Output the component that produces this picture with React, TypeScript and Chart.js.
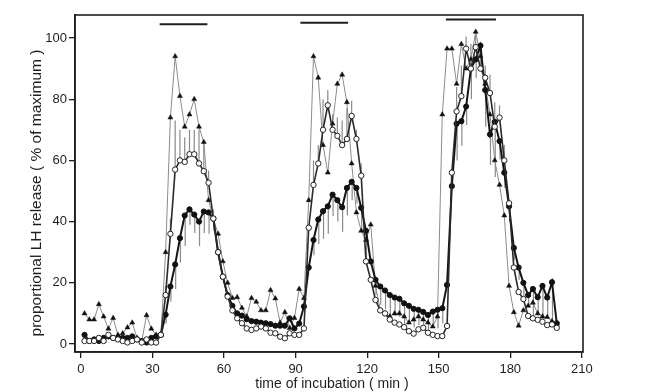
import React, { useEffect, useRef } from 'react';
import { Chart, registerables } from 'chart.js';

Chart.register(...registerables);

// sampling times (min)
const TIMES = [
  1.5, 3.5, 5.5, 7.5, 9.5, 11.5, 13.5, 15.5, 17.5, 19.5,
  21.5, 23.5, 25.5, 27.5, 29.5, 31.5, 33.5, 35.5, 37.5, 39.5,
  41.5, 43.5, 45.5, 47.5, 49.5, 51.5, 53.5, 55.5, 57.5, 59.5,
  61.5, 63.5, 65.5, 67.5, 69.5, 71.5, 73.5, 75.5, 77.5, 79.5,
  81.5, 83.5, 85.5, 87.5, 89.5, 91.5, 93.5, 95.5, 97.5, 99.5,
  101.5, 103.5, 105.5, 107.5, 109.5, 111.5, 113.5, 115.5, 117.5, 119.5,
  121.5, 123.5, 125.5, 127.5, 129.5, 131.5, 133.5, 135.5, 137.5, 139.5,
  141.5, 143.5, 145.5, 147.5, 149.5, 151.5, 153.5, 155.5, 157.5, 159.5,
  161.5, 163.5, 165.5, 167.5, 169.5, 171.5, 173.5, 175.5, 177.5, 179.5,
  181.5, 183.5, 185.5, 187.5, 189.5, 191.5, 193.5, 195.5, 197.5, 199.5,
];

// triangles (thin grey line)
const TRIANGLE = [
  10, 8, 8, 13, 9, 5, 8.5, 3, 3.5, 5.4,
  7, 2, 1, 9.4, 5, 3, 3, 30, 74, 94,
  81, 71, 75, 80, 71, 66, 47, 41, 36, 27,
  20, 15, 15.3, 11.8, 9, 15, 13.8, 11, 11, 17.6,
  14.9, 7, 10.4, 5.2, 8.5, 18, 15, 47, 94, 87,
  65, 56, 72, 85, 88, 79, 59, 43, 37, 34,
  39, 19, 11, 10, 9, 10, 10, 9, 7, 8,
  9, 8, 7, 5.7, 9, 75, 96.5, 96.5, 85, 98,
  90, 93, 102, 94, 85, 75, 60, 52, 42, 19,
  10.4, 6, 11, 12.5, 13.5, 10, 9, 8.8, 7.5, 6.5,
];

// open circles
const OPEN = [
  1, 1, 1, 2, 1, 3, 2, 1.5, 1, 0.5,
  1, 1.5, 0.5, 1.5, 0.5, 0.5, 3, 16, 36, 57,
  60, 59.5, 62, 62, 59, 56.5, 52.7, 41, 30, 22,
  15.5, 11, 8.4, 6.8, 5.1, 4.6, 5.1, 5.7, 5.1, 3.7,
  3.5, 2.4, 1.9, 3.5, 3, 3, 5.1, 38, 52, 59,
  70, 78, 70, 68, 65, 67, 74.5, 67, 55, 27,
  21, 14.4, 11, 10, 8, 7, 6.4, 5.5, 4.2, 3.4,
  4.8, 5.3, 3.7, 3, 2.6, 2.6, 5.9, 56, 76, 81,
  96.5, 90, 97, 90, 87, 82, 71, 74, 60, 46,
  25, 17, 14.7, 9.2, 8.4, 7.9, 7.3, 6.2, 6.4, 5.3,
];

// filled circles
const FILLED = [
  3, 1, 1.5, 1, 2, 2.5, 2, 2, 2, 2,
  2.5, 1.5, 1, 0.5, 2, 2.5, 3, 9.6, 18.8, 26,
  34.6, 42, 44, 42.3, 40, 43.3, 43, 41, 30, 22,
  16, 12.5, 10, 9.3, 8.1, 7.5, 7.3, 7, 6.8, 6.5,
  6, 6, 6, 8.4, 5.1, 6.7, 12.3, 25, 34, 40.7,
  43.4, 45, 48.8, 47, 44.7, 51, 53, 51, 44.5, 37,
  27, 21, 18.8, 17.5, 16, 15.2, 14.8, 13.3, 12.5, 11.5,
  11.2, 10.5, 9.5, 10.6, 11.2, 11.7, 19.3, 51.6, 72, 72.8,
  77.6, 90, 93, 97.5, 83, 68.5, 72.6, 66.3, 56, 45,
  31.4, 25, 20, 16, 18, 15.3, 19, 15.2, 20.2, 6.8,
];

// error bars (upward on open circles, downward on filled circles)
const OPEN_ERR = [
  0, 0, 0, 0, 0, 0, 0, 0, 0, 0,
  0, 0, 0, 0, 0, 0, 0, 3, 5, 16,
  10, 8, 8, 8, 11, 9, 4, 3, 0, 0,
  0, 0, 0, 0, 0, 0, 0, 0, 0, 0,
  0, 0, 0, 0, 0, 0, 0, 0, 8, 6,
  10, 5, 5, 6, 8, 10, 5, 3, 4, 0,
  0, 0, 0, 0, 0, 0, 0, 0, 0, 0,
  0, 0, 0, 0, 0, 0, 0, 0, 8, 10,
  4, 8, 4, 6, 4, 6, 8, 4, 5, 0,
  0, 0, 0, 0, 0, 0, 0, 0, 0, 0,
];

const FILLED_ERR = [
  0, 0, 0, 0, 0, 0, 0, 0, 0, 0,
  0, 0, 0, 0, 0, 0, 0, 3, 5, 8,
  8, 10, 5, 6, 8, 7, 7, 4, 0, 0,
  0, 0, 0, 0, 0, 0, 0, 0, 0, 0,
  0, 0, 0, 0, 0, 0, 0, 0, 5, 8,
  9, 9, 7, 7, 8, 9, 6, 5, 8, 10,
  0, 5, 6, 6, 7, 6, 6, 7, 6, 6,
  5, 6, 5, 5, 6, 5, 0, 0, 12, 8,
  6, 10, 6, 8, 12, 10, 18, 6, 5, 5,
  4, 4, 5, 4, 9, 6, 11, 6, 12, 0,
];

const X_TICKS = [0, 30, 60, 90, 120, 150, 180, 210];
const Y_TICKS = [0, 20, 40, 60, 80, 100];

// stimulation periods (bars at the top)
const STIM_START = [33, 92, 153];
const STIM_END = [53, 112, 174];
const STIM_LEVEL = [104.5, 105, 106];

const X_TITLE = 'time of incubation ( min )';
const Y_TITLE = 'proportional LH release ( % of maximum )';

const FONT = '"Liberation Sans", Arial, Helvetica, sans-serif';
const INK = '#1e1e1e';

const errorBarsPlugin = {
  id: 'errorBars',
  beforeDatasetsDraw(chart: any) {
    const { ctx, scales } = chart;
    const xs = scales.x;
    const ys = scales.y;
    ctx.save();
    ctx.strokeStyle = '#8a8a8a';
    ctx.lineWidth = 1.2;
    for (let i = 0; i < TIMES.length; i++) {
      const px = xs.getPixelForValue(TIMES[i]);
      if (OPEN_ERR[i] > 0) {
        ctx.beginPath();
        ctx.moveTo(px, ys.getPixelForValue(OPEN[i]));
        ctx.lineTo(px, ys.getPixelForValue(OPEN[i] + OPEN_ERR[i]));
        ctx.stroke();
      }
      if (FILLED_ERR[i] > 0) {
        ctx.beginPath();
        ctx.moveTo(px + 0.5, ys.getPixelForValue(FILLED[i]));
        ctx.lineTo(px + 0.5, ys.getPixelForValue(FILLED[i] - FILLED_ERR[i]));
        ctx.stroke();
      }
    }
    ctx.restore();
  },
};

const framePlugin = {
  id: 'frame',
  afterDraw(chart: any) {
    const { ctx, chartArea } = chart;
    ctx.save();
    ctx.strokeStyle = INK;
    ctx.lineWidth = 1.6;
    ctx.strokeRect(chartArea.left, chartArea.top, chartArea.right - chartArea.left, chartArea.bottom - chartArea.top);
    ctx.fillStyle = INK;
    ctx.textAlign = 'center';
    ctx.textBaseline = 'middle';
    ctx.font = `14px ${FONT}`;
    ctx.fillText(X_TITLE, 332, 384);
    ctx.save();
    ctx.translate(37, 193);
    ctx.rotate(-Math.PI / 2);
    ctx.font = `15.5px ${FONT}`;
    ctx.fillText(Y_TITLE, 0, 0);
    ctx.restore();
    ctx.restore();
  },
};

export default function App() {
  const ref = useRef<HTMLCanvasElement | null>(null);

  useEffect(() => {
    if (!ref.current) return;
    const pts = (vals: number[]) => TIMES.map((t, i) => ({ x: t, y: vals[i] }));
    const stimSets = STIM_START.map((s, i) => ({
      label: 'stim' + i,
      data: [
        { x: s, y: STIM_LEVEL[i] },
        { x: STIM_END[i], y: STIM_LEVEL[i] },
      ],
      borderColor: INK,
      borderWidth: 2,
      pointRadius: 0,
      order: 0,
    }));
    const chart = new Chart(ref.current, {
      type: 'line',
      data: {
        datasets: [
          {
            label: 'triangles',
            data: pts(TRIANGLE),
            borderColor: '#8c8c8c',
            borderWidth: 1,
            pointStyle: 'triangle',
            pointRadius: 2.9,
            pointBackgroundColor: '#111',
            pointBorderColor: '#111',
            pointBorderWidth: 0.5,
            order: 3,
          },
          {
            label: 'open',
            data: pts(OPEN),
            borderColor: '#2a2a2a',
            borderWidth: 1.6,
            pointStyle: 'circle',
            pointRadius: 2.7,
            pointBackgroundColor: '#ffffff',
            pointBorderColor: '#222',
            pointBorderWidth: 1,
            order: 1,
          },
          {
            label: 'filled',
            data: pts(FILLED),
            borderColor: '#151515',
            borderWidth: 2,
            pointStyle: 'circle',
            pointRadius: 2.6,
            pointBackgroundColor: '#111',
            pointBorderColor: '#111',
            pointBorderWidth: 1,
            order: 2,
          },
          ...stimSets,
        ] as any,
      },
      options: {
        animation: false,
        responsive: false,
        maintainAspectRatio: false,
        devicePixelRatio: 1,
        layout: { padding: { left: 0, right: 67, top: 15, bottom: 0 } },
        plugins: { legend: { display: false }, tooltip: { enabled: false } },
        elements: { line: { tension: 0 } },
        scales: {
          x: {
            type: 'linear',
            min: -2.5,
            max: 210.5,
            afterBuildTicks: (s: any) => {
              s.ticks = X_TICKS.map((v) => ({ value: v }));
            },
            afterFit: (s: any) => {
              s.height = 40;
            },
            grid: { display: true, drawOnChartArea: false, drawTicks: true, tickLength: 6, color: INK, lineWidth: 1.3 },
            border: { display: true, color: INK, width: 1.6 },
            ticks: { color: INK, font: { family: FONT, size: 13 }, padding: 4, maxRotation: 0, autoSkip: false },
          },
          y: {
            type: 'linear',
            min: -2.6,
            max: 107.5,
            afterBuildTicks: (s: any) => {
              s.ticks = Y_TICKS.map((v) => ({ value: v }));
            },
            afterFit: (s: any) => {
              s.width = 75;
            },
            grid: { display: true, drawOnChartArea: false, drawTicks: true, tickLength: 6, color: INK, lineWidth: 1.3 },
            border: { display: true, color: INK, width: 1.6 },
            ticks: { color: INK, font: { family: FONT, size: 13 }, padding: 2, autoSkip: false },
          },
        },
      } as any,
      plugins: [errorBarsPlugin, framePlugin],
    });
    return () => chart.destroy();
  }, []);

  return (
    <div style={{ position: 'absolute', left: 0, top: 0, width: 650, height: 392, background: '#fff' }}>
      <canvas ref={ref} width={650} height={392} style={{ width: 650, height: 392, display: 'block' }} />
    </div>
  );
}
